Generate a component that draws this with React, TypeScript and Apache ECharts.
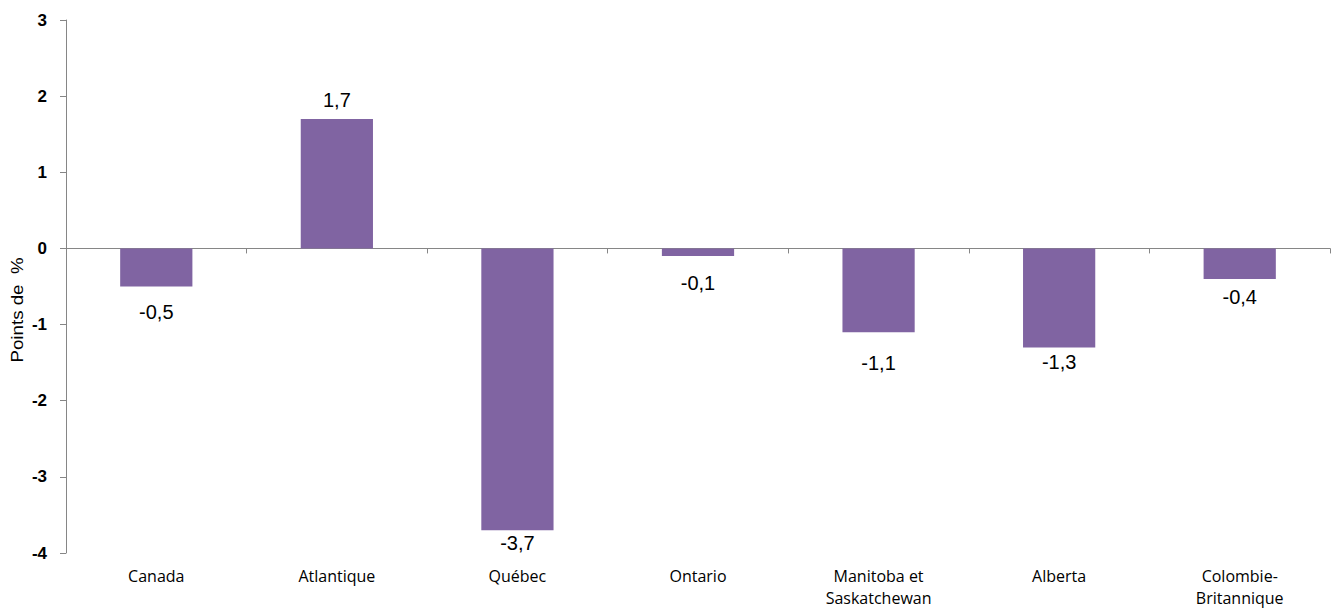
import React, { useEffect, useRef } from "react";
import * as echarts from "echarts";

const categories = [
  "Canada",
  "Atlantique",
  "Québec",
  "Ontario",
  "Manitoba et\nSaskatchewan",
  "Alberta",
  "Colombie-\nBritannique",
];
const values = [-0.5, 1.7, -3.7, -0.1, -1.1, -1.3, -0.4];
const labelGaps = [15, 9, 3, 17, 21, 5, 8];
const yTicks = { min: -4, max: 3, interval: 1 };
const yAxisTitle = "Points de  %";

const fmt = (v: number) => String(v).replace(".", ",");

export default function App() {
  const ref = useRef<HTMLDivElement>(null);
  useEffect(() => {
    if (!ref.current) return;
    const chart = echarts.init(ref.current, undefined, { renderer: "svg" });
    const axisColor = "#868686";
    chart.setOption({
      animation: false,
      backgroundColor: "#ffffff",
      grid: { left: 66, right: 6, top: 20, bottom: 56, containLabel: false },
      xAxis: [
        {
          type: "category",
          data: categories,
          axisLine: { onZero: true, lineStyle: { color: axisColor, width: 1 } },
          axisTick: { show: true, alignWithLabel: false, length: 5, lineStyle: { color: axisColor } },
          axisLabel: { show: false },
          splitLine: { show: false },
        },
        {
          type: "category",
          data: categories,
          position: "bottom",
          axisLine: { show: false, onZero: false },
          axisTick: { show: false },
          axisLabel: {
            show: true,
            margin: 12,
            color: "#000000",
            fontSize: 16,
            lineHeight: 22,
            fontFamily: "'Open Sans', 'Noto Sans', sans-serif",
            interval: 0,
          },
        },
      ],
      yAxis: {
        type: "value",
        min: yTicks.min,
        max: yTicks.max,
        interval: yTicks.interval,
        axisLine: { show: true, lineStyle: { color: axisColor } },
        axisTick: { show: true, length: 6, inside: false, lineStyle: { color: axisColor } },
        splitLine: { show: false },
        axisLabel: {
          color: "#000000",
          fontSize: 17,
          fontWeight: "bold",
          margin: 19,
          fontFamily: "Liberation Sans, Arial, sans-serif",
        },
      },
      graphic: [
        {
          type: "text",
          x: 17,
          y: 310,
          rotation: Math.PI / 2,
          scaleX: 1.17,
          scaleY: 1,
          style: {
            text: yAxisTitle,
            fill: "#000000",
            font: '16px "Liberation Sans", Arial, sans-serif',
            align: "center",
            verticalAlign: "middle",
          },
        },
      ],
      series: [
        {
          type: "bar",
          xAxisIndex: 0,
          barWidth: "40%",
          itemStyle: { color: "#8064A2" },
          data: values.map((v, i) => ({
            value: v,
            label: {
              show: true,
              position: v >= 0 ? "top" : "bottom",
              distance: labelGaps[i],
              formatter: () => fmt(v),
              color: "#000000",
              fontSize: 20,
              fontFamily: "Liberation Sans, Arial, sans-serif",
            },
          })),
        },
      ],
    });
    return () => chart.dispose();
  }, []);
  return (
    <div
      ref={ref}
      style={{ position: "absolute", left: 0, top: 0, width: 1336, height: 609 }}
    />
  );
}
